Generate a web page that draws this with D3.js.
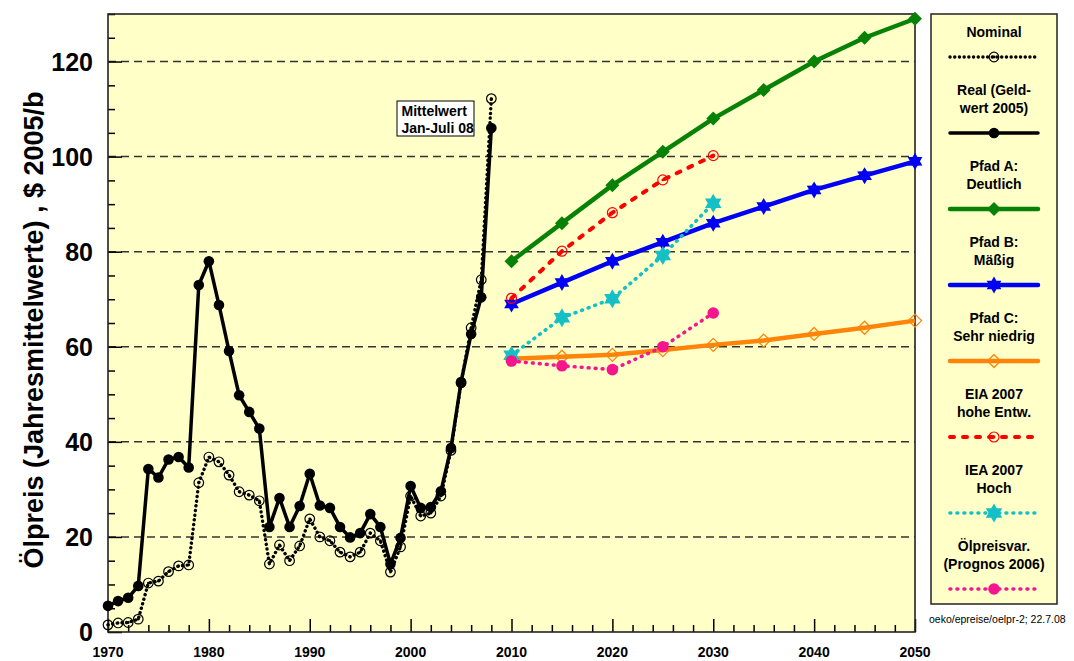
<!DOCTYPE html>
<html>
<head>
<meta charset="utf-8">
<script src="https://cdn.jsdelivr.net/npm/d3@7"></script>
<style>
  body { margin: 0; background: #fff; }
  svg { display: block; font-family: "Liberation Sans", Arial, Helvetica, sans-serif; }
</style>
</head>
<body>
<div id="chart"></div>
<script>
// historical prices, $/b
const histYears = d3.range(1970, 2009)
const nominal = [1.5, 1.9, 2.0, 2.7, 10.3, 10.7, 12.7, 13.9, 14.1, 31.4,
  36.8, 35.8, 33.0, 29.5, 28.8, 27.6, 14.3, 18.3, 15.0, 18.1,
  23.8, 20.0, 19.2, 16.8, 15.8, 16.8, 20.8, 19.2, 12.6, 17.9,
  28.6, 24.4, 25.0, 28.6, 38.2, 52.4, 64.0, 74.1, 112.2]
const real = [5.5, 6.5, 7.2, 9.7, 34.3, 32.5, 36.3, 36.8, 34.6, 73.0,
  78.0, 68.8, 59.1, 49.8, 46.3, 42.8, 22.1, 28.2, 22.1, 26.5,
  33.3, 26.6, 26.1, 22.1, 19.9, 20.8, 24.8, 22.1, 14.3, 19.8,
  30.7, 26.1, 26.3, 29.6, 38.7, 52.6, 62.7, 70.4, 106.0]

// scenarios
const pathYears = [2010, 2015, 2020, 2025, 2030, 2035, 2040, 2045, 2050]
const pfadA = [78, 86, 94, 101, 108, 114, 120, 125, 129]
const pfadB = [69, 73.5, 78, 82, 86, 89.5, 93, 96, 99]
const pfadC = [57.5, 57.9, 58.3, 59.3, 60.4, 61.3, 62.7, 64, 65.5]

const studyYears = [2010, 2015, 2020, 2025, 2030]
const eia2007 = [70.2, 80.1, 88.2, 95.1, 100.2]
const iea2007 = [58.2, 66.1, 70.1, 79.2, 90.2]
const prognos = [57, 56, 55.2, 60, 67.1]

const xTickLabels = [1970, 1980, 1990, 2000, 2010, 2020, 2030, 2040, 2050]
const yTickLabels = [0, 20, 40, 60, 80, 100, 120]

const yTitle = "Ölpreis (Jahresmittelwerte) , $ 2005/b"
const noteLines = ["Mittelwert", "Jan-Juli 08"]
const footnote = "oeko/epreise/oelpr-2; 22.7.08"

const series = [
  {label: ["Nominal"], years: histYears, values: nominal, color: "#000", width: 3.4, dash: "0.1,4.6", marker: "ring", size: 4.8},
  {label: ["Real (Geld-", "wert 2005)"], years: histYears, values: real, color: "#000", width: 3.5, dash: null, marker: "dot", size: 5.3},
  {label: ["Pfad A:", "Deutlich"], years: pathYears, values: pfadA, color: "#078207", width: 4.5, dash: null, marker: "diamond", size: 7},
  {label: ["Pfad B:", "Mäßig"], years: pathYears, values: pfadB, color: "#0000f5", width: 4.5, dash: null, marker: "star", size: 8.5},
  {label: ["Pfad C:", "Sehr niedrig"], years: pathYears, values: pfadC, color: "#ff8409", width: 4.5, dash: null, marker: "diamondOpen", size: 6.5},
  {label: ["EIA 2007", "hohe Entw."], years: studyYears, values: eia2007, color: "#ff0000", width: 4, dash: "4,9", marker: "ring", size: 5},
  {label: ["IEA 2007", "Hoch"], years: studyYears, values: iea2007, color: "#14bfc6", width: 3.6, dash: "0.8,6.2", marker: "star", size: 9.5},
  {label: ["Ölpreisvar.", "(Prognos 2006)"], years: studyYears, values: prognos, color: "#f5158c", width: 3.6, dash: "0.8,6.2", marker: "dot", size: 5.8}
]

const drawOrder = [1, 0, 2, 3, 4, 5, 6, 7]

const width = 1074
const height = 661
const margin = {top: 14, right: 159, bottom: 29, left: 108}
const bg = "#ffffc8"

const svg = d3.select("#chart").append("svg")
  .attr("width", width)
  .attr("height", height)

const x = d3.scaleLinear()
  .domain([1970, 2050])
  .range([margin.left, width - margin.right])

const y = d3.scaleLinear()
  .domain([0, 130])
  .range([height - margin.bottom, margin.top])

svg.append("rect")
  .attr("x", x(1970)).attr("y", y(130))
  .attr("width", x(2050) - x(1970)).attr("height", y(0) - y(130))
  .attr("fill", bg)

// dashed grid
svg.append("g")
  .selectAll("line")
  .data(yTickLabels.filter(d => d > 0))
  .join("line")
  .attr("x1", x(1970)).attr("x2", x(2050))
  .attr("y1", d => y(d)).attr("y2", d => y(d))
  .attr("stroke", "#333")
  .attr("stroke-width", 1.5)
  .attr("stroke-dasharray", "8,5")

// ticks pointing inwards
const xAxis = g => g
  .attr("transform", `translate(0, ${y(0)})`)
  .call(d3.axisTop(x).tickValues(d3.range(1970, 2051, 2)).tickSize(7).tickFormat(""))
  .call(g => g.selectAll(".tick line")
    .attr("stroke", "#000").attr("stroke-width", 1.5)
    .attr("y2", d => (d % 10 === 0) ? -13 : -7))
  .call(g => g.select(".domain").remove())

const yAxis = g => g
  .attr("transform", `translate(${x(1970)}, 0)`)
  .call(d3.axisRight(y).tickValues(d3.range(0, 131, 5)).tickSize(7).tickFormat(""))
  .call(g => g.selectAll(".tick line")
    .attr("stroke", "#000").attr("stroke-width", 1.5)
    .attr("x2", d => (d % 20 === 0) ? 14 : 7))
  .call(g => g.select(".domain").remove())

svg.append("g").call(xAxis)
svg.append("g").call(yAxis)

svg.append("rect")
  .attr("x", x(1970)).attr("y", y(130))
  .attr("width", x(2050) - x(1970)).attr("height", y(0) - y(130))
  .attr("fill", "none")
  .attr("stroke", "#222")
  .attr("stroke-width", 1.6)

// tick labels
svg.append("g")
  .selectAll("text")
  .data(xTickLabels)
  .join("text")
  .attr("x", d => x(d))
  .attr("y", 657)
  .attr("text-anchor", "middle")
  .attr("font-size", 14)
  .attr("font-weight", "bold")
  .text(d => d)

svg.append("g")
  .selectAll("text")
  .data(yTickLabels)
  .join("text")
  .attr("x", 93)
  .attr("y", d => y(d) + 9)
  .attr("text-anchor", "end")
  .attr("font-size", 25)
  .attr("font-weight", "bold")
  .text(d => d)

svg.append("text")
  .attr("transform", `translate(43, 330) rotate(-90)`)
  .attr("text-anchor", "middle")
  .attr("font-size", 27)
  .attr("font-weight", "bold")
  .text(yTitle)

// markers
function starPath(r) {
  const p = d3.path()
  for (let i = 0; i < 12; i++) {
    const a = -Math.PI / 2 + i * Math.PI / 6
    const rr = i % 2 === 0 ? r : r * 0.58
    if (i === 0) p.moveTo(rr * Math.cos(a), rr * Math.sin(a))
    else p.lineTo(rr * Math.cos(a), rr * Math.sin(a))
  }
  p.closePath()
  return p.toString()
}

function diamondPath(h) {
  return `M0,${-h}L${h},0L0,${h}L${-h},0Z`
}

function marker(g, s) {
  if (s.marker === "dot") {
    g.append("circle").attr("r", s.size).attr("fill", s.color)
  } else if (s.marker === "ring") {
    g.append("circle").attr("r", s.size).attr("fill", "none")
      .attr("stroke", s.color).attr("stroke-width", 1.2)
    g.append("circle").attr("r", 1.4).attr("fill", s.color)
  } else if (s.marker === "diamond") {
    g.append("path").attr("d", diamondPath(s.size)).attr("fill", s.color)
  } else if (s.marker === "diamondOpen") {
    g.append("path").attr("d", diamondPath(s.size)).attr("fill", "none")
      .attr("stroke", s.color).attr("stroke-width", 1.3)
  } else if (s.marker === "star") {
    g.append("path").attr("d", starPath(s.size)).attr("fill", s.color)
  }
}

const line = d3.line()
  .x(d => x(d[0]))
  .y(d => y(d[1]))

drawOrder.forEach(i => {
  const s = series[i]
  const pts = s.years.map((yr, j) => [yr, s.values[j]])
  const g = svg.append("g")
  g.append("path")
    .datum(pts)
    .attr("fill", "none")
    .attr("stroke", s.color)
    .attr("stroke-width", s.width)
    .attr("stroke-linejoin", "round")
    .attr("stroke-linecap", s.dash ? "round" : "butt")
    .attr("stroke-dasharray", s.dash)
    .attr("d", line)
  g.selectAll("g.m")
    .data(pts)
    .join("g")
    .attr("class", "m")
    .attr("transform", d => `translate(${x(d[0])}, ${y(d[1])})`)
    .each(function () { marker(d3.select(this), s) })
})

// note box for 2008
const note = svg.append("g").attr("transform", "translate(397, 101)")
note.append("rect")
  .attr("width", 77).attr("height", 35)
  .attr("fill", "#fff").attr("stroke", "#000").attr("stroke-width", 1)
note.selectAll("text")
  .data(noteLines)
  .join("text")
  .attr("x", 4.5)
  .attr("y", (d, i) => 14.5 + i * 17)
  .attr("font-size", 14)
  .attr("font-weight", "bold")
  .text(d => d)

// legend
const legend = svg.append("g")
legend.append("rect")
  .attr("x", 931).attr("y", 14)
  .attr("width", 126).attr("height", 590)
  .attr("fill", bg)
  .attr("stroke", "#222")
  .attr("stroke-width", 1.5)

series.forEach((s, i) => {
  const ly = 57 + i * 76
  const g = legend.append("g")
  g.selectAll("text")
    .data(s.label)
    .join("text")
    .attr("x", 994)
    .attr("y", (d, j) => s.label.length === 1 ? ly - 20 : ly - 38 + j * 17.5)
    .attr("text-anchor", "middle")
    .attr("font-size", 14)
    .attr("font-weight", "bold")
    .text(d => d)
  g.append("line")
    .attr("x1", 950).attr("x2", 1038)
    .attr("y1", ly).attr("y2", ly)
    .attr("stroke", s.color)
    .attr("stroke-width", s.width)
    .attr("stroke-linecap", "round")
    .attr("stroke-dasharray", s.dash)
  const m = g.append("g").attr("transform", `translate(994, ${ly})`)
  marker(m, s)
})

svg.append("text")
  .attr("x", 929)
  .attr("y", 623)
  .attr("font-size", 10.5)
  .text(footnote)
</script>
</body>
</html>
